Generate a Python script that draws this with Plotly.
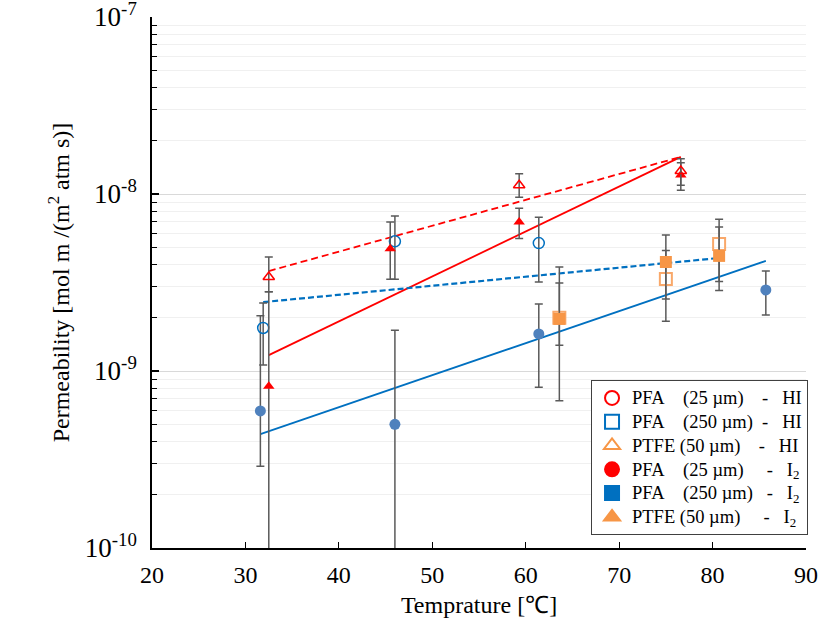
import plotly.graph_objects as go

NB = "\u00a0"

# ---- data (temperature in deg C, permeability) ----
# PFA 25 um - HI (red open triangles)
pfa25_hi_x = [32.5, 59.3, 76.6]
pfa25_hi_y = [3.4e-9, 1.12e-8, 1.35e-8]
pfa25_hi_up = [4.4e-9, 1.30e-8, 1.58e-8]
pfa25_hi_lo = [2.8e-9, 9.6e-9, 1.12e-8]

# PFA 25 um - I2 (red filled triangles)
pfa25_i2_x = [32.5, 45.5, 59.3, 76.6]
pfa25_i2_y = [8.2e-10, 4.9e-9, 6.95e-9, 1.28e-8]
pfa25_i2_up = [2.8e-9, 6.95e-9, 8.3e-9, 1.50e-8]
pfa25_i2_lo = [5e-11, 3.3e-9, 5.6e-9, 1.05e-8]

# PFA 250 um - HI (blue open circles)
pfa250_hi_x = [31.9, 46.0, 61.4]
pfa250_hi_y = [1.75e-9, 5.4e-9, 5.28e-9]
pfa250_hi_up = [2.42e-9, 7.5e-9, 7.4e-9]
pfa250_hi_lo = [1.08e-9, 3.3e-9, 3.18e-9]

# PFA 250 um - I2 (blue filled circles)
pfa250_i2_x = [31.6, 46.0, 61.4, 85.7]
pfa250_i2_y = [5.95e-10, 5.0e-10, 1.62e-9, 2.87e-9]
pfa250_i2_up = [2.05e-9, 1.7e-9, 2.39e-9, 3.67e-9]
pfa250_i2_lo = [2.9e-10, 5e-11, 8.1e-10, 2.07e-9]

# PTFE 50 um - HI (orange open squares)
ptfe_hi_x = [63.6, 75.0, 80.7]
ptfe_hi_y = [2.0e-9, 3.31e-9, 5.22e-9]
ptfe_hi_up = [3.87e-9, 5.86e-9, 7.2e-9]
ptfe_hi_lo = [1.4e-9, 1.91e-9, 2.85e-9]

# PTFE 50 um - I2 (orange filled squares)
ptfe_i2_x = [63.6, 75.0, 80.7]
ptfe_i2_y = [1.97e-9, 4.13e-9, 4.47e-9]
ptfe_i2_up = [3.14e-9, 4.8e-9, 6.5e-9]
ptfe_i2_lo = [6.8e-10, 2.55e-9, 3.2e-9]

# fit lines (endpoints)
fit_red_dash_x = [32.5, 76.6]
fit_red_dash_y = [3.67e-9, 1.62e-8]
fit_red_solid_x = [32.5, 76.6]
fit_red_solid_y = [1.23e-9, 1.62e-8]
fit_blue_dash_x = [31.9, 80.7]
fit_blue_dash_y = [2.45e-9, 4.35e-9]
fit_blue_solid_x = [31.6, 85.7]
fit_blue_solid_y = [4.4e-10, 4.19e-9]

# axis ticks
x_ticks = [20, 30, 40, 50, 60, 70, 80, 90]
y_decades = [-10, -9, -8, -7]
y_ticktext = ["10<sup>-10</sup>", "10<sup>-9</sup>", "10<sup>-8</sup>", "10<sup>-7</sup>"]

legend_labels = [
    "PFA" + NB*4 + "(25 µm)" + NB*4 + "-" + NB*3 + "HI",
    "PFA" + NB*4 + "(250 µm)" + NB*2 + "-" + NB*3 + "HI",
    "PTFE" + NB + "(50 µm)" + NB*4 + "-" + NB*3 + "HI",
    "PFA" + NB*4 + "(25 µm)" + NB*5 + "-" + NB*3 + "I<sub>2</sub>",
    "PFA" + NB*4 + "(250 µm)" + NB*3 + "-" + NB*3 + "I<sub>2</sub>",
    "PTFE" + NB + "(50 µm)" + NB*5 + "-" + NB*3 + "I<sub>2</sub>",
]

RED = "#FF0000"
BLUE_LINE = "#0070C0"
BLUE_DOT = "#4F81BD"
ORANGE = "#F79646"
ERR = "#5a5a5a"

fig = go.Figure()

def err(y, up, lo):
    return dict(type="data", symmetric=False,
                array=[u - v for u, v in zip(up, y)],
                arrayminus=[v - l for v, l in zip(y, lo)],
                color=ERR, thickness=1.5, width=4)

# fit lines
fig.add_trace(go.Scatter(x=fit_red_dash_x, y=fit_red_dash_y, mode="lines",
                         line=dict(color=RED, width=1.8, dash="7px,4px"), showlegend=False))
fig.add_trace(go.Scatter(x=fit_red_solid_x, y=fit_red_solid_y, mode="lines",
                         line=dict(color=RED, width=1.8), showlegend=False))
fig.add_trace(go.Scatter(x=fit_blue_dash_x, y=fit_blue_dash_y, mode="lines",
                         line=dict(color=BLUE_LINE, width=2.2, dash="6px,3px"), showlegend=False))
fig.add_trace(go.Scatter(x=fit_blue_solid_x, y=fit_blue_solid_y, mode="lines",
                         line=dict(color=BLUE_LINE, width=1.8), showlegend=False))

# data points
fig.add_trace(go.Scatter(x=ptfe_hi_x, y=ptfe_hi_y, mode="markers", showlegend=False,
                         error_y=err(ptfe_hi_y, ptfe_hi_up, ptfe_hi_lo),
                         marker=dict(symbol="square-open", size=12, color="#F9A86A", line=dict(width=2))))
fig.add_trace(go.Scatter(x=ptfe_i2_x, y=ptfe_i2_y, mode="markers", showlegend=False,
                         error_y=err(ptfe_i2_y, ptfe_i2_up, ptfe_i2_lo),
                         marker=dict(symbol="square", size=12, color=ORANGE)))
fig.add_trace(go.Scatter(x=pfa250_i2_x, y=pfa250_i2_y, mode="markers", showlegend=False,
                         error_y=err(pfa250_i2_y, pfa250_i2_up, pfa250_i2_lo),
                         marker=dict(symbol="circle", size=11, color=BLUE_DOT)))
fig.add_trace(go.Scatter(x=pfa250_hi_x, y=pfa250_hi_y, mode="markers", showlegend=False,
                         error_y=err(pfa250_hi_y, pfa250_hi_up, pfa250_hi_lo),
                         marker=dict(symbol="circle-open", size=11, color=BLUE_LINE, line=dict(width=1.5))))
fig.add_trace(go.Scatter(x=pfa25_i2_x, y=pfa25_i2_y, mode="markers", showlegend=False,
                         error_y=err(pfa25_i2_y, pfa25_i2_up, pfa25_i2_lo),
                         marker=dict(symbol="triangle-up", size=10, color=RED)))
fig.add_trace(go.Scatter(x=pfa25_hi_x, y=pfa25_hi_y, mode="markers", showlegend=False,
                         error_y=err(pfa25_hi_y, pfa25_hi_up, pfa25_hi_lo),
                         marker=dict(symbol="triangle-up-open", size=10, color=RED, line=dict(width=1.5))))

# legend entries (as shown in the original legend)
legend_symbols = ["circle-open", "square-open", "triangle-up-open", "circle", "square", "triangle-up"]
legend_colors = [RED, BLUE_LINE, ORANGE, RED, BLUE_LINE, ORANGE]
for label, sym, col in zip(legend_labels, legend_symbols, legend_colors):
    fig.add_trace(go.Scatter(x=[None], y=[None], mode="markers",
                             name='<span style="font-size:18.5px">' + label + "</span>",
                             marker=dict(symbol=sym, size=14, color=col,
                                         line=dict(width=2, color=col))))

minor_vals = [m * 10.0 ** d for d in y_decades[:-1] for m in range(2, 10)]

fig.update_layout(
    width=825, height=632,
    margin=dict(l=152, r=19, t=17, b=84),
    paper_bgcolor="white", plot_bgcolor="white",
    font=dict(family="Liberation Serif, Times New Roman, serif", color="black"),
    showlegend=True,
    legend=dict(x=0.6713, y=0.3164, xanchor="left", yanchor="top",
                bgcolor="white", bordercolor="#404040", borderwidth=1,
                font=dict(size=16, family="Liberation Serif"), tracegroupgap=0,
                itemwidth=30),
    xaxis=dict(range=[20, 90], tickvals=x_ticks, ticks="inside", ticklen=6,
               tickcolor="black", tickwidth=1.2, showline=True, linecolor="black",
               linewidth=1.5, showgrid=False, zeroline=False, automargin=False,
               tickfont=dict(size=24), ticklabelstandoff=4, ticklabeloverflow="allow",
               title=dict(text="Temprature [℃]", font=dict(size=24), standoff=10)),
    yaxis=dict(type="log", range=[-10, -7], automargin=False,
               tickmode="array", tickvals=[10.0 ** d for d in y_decades], ticktext=y_ticktext,
               ticks="inside", ticklen=7, tickcolor="black", tickwidth=1.5,
               showline=True, linecolor="black", linewidth=1.5,
               showgrid=True, gridcolor="#d9d9d9", gridwidth=1, zeroline=False,
               tickfont=dict(size=27), ticklabelstandoff=8, ticklabeloverflow="allow",
               minor=dict(tickmode="array", tickvals=minor_vals, ticks="inside", ticklen=5,
                          tickcolor="black", tickwidth=1.2, showgrid=True, gridcolor="#f0f0f0"),
               title=dict(text="Permeability [mol m /(m<sup>2</sup> atm s)]", font=dict(size=24), standoff=8)),
)

fig.write_html("out.html", config={"displayModeBar": False},
               post_script="document.body.style.margin='0';")
